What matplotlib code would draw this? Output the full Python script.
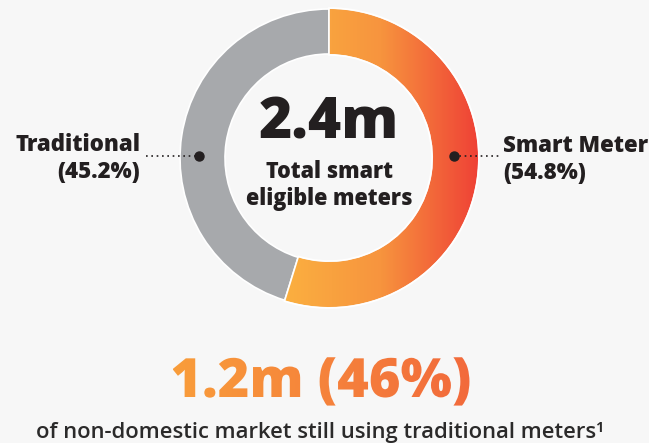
import numpy as np
import matplotlib.pyplot as plt
from matplotlib.patches import Wedge, PathPatch
from matplotlib.textpath import TextPath
from matplotlib.font_manager import FontProperties
from matplotlib.colors import LinearSegmentedColormap
from matplotlib.transforms import Affine2D

# data
labels = ['Smart Meter', 'Traditional']
shares = [54.8, 45.2]
total_label = '2.4m'
headline = '1.2m (46%)'
subline = 'of non-domestic market still using traditional meters\u00b9'

W, H = 649, 443
BG = '#f7f7f7'
DARK = '#231f20'
GREY = '#a7a9ac'

plt.rcParams['font.family'] = ['Open Sans', 'DejaVu Sans']

fig = plt.figure(figsize=(W / 100, H / 100), dpi=100, facecolor=BG)
ax = fig.add_axes([0, 0, 1, 1])
ax.set_xlim(0, W)
ax.set_ylim(0, H)
ax.set_aspect('equal')
ax.axis('off')

# donut geometry (pixels, y up)
cx, cy = 329, H - 158
R, r = 149, 104
width = R - r

angle_smart = shares[0] / sum(shares) * 360
start = 90

# traditional segment (grey)
trad = Wedge((cx, cy), R, start, start + (360 - angle_smart), width=width,
             facecolor=GREY, edgecolor='white', lw=1.2, zorder=2)
ax.add_patch(trad)

# smart meter segment with horizontal gradient
smart = Wedge((cx, cy), R, start - angle_smart, start, width=width,
              facecolor='none', edgecolor='none', zorder=2)
ax.add_patch(smart)
grad_cmap = LinearSegmentedColormap.from_list('smart', ['#fbb040', '#f7943e', '#ef4136'])
grad = np.linspace(0, 1, 256).reshape(1, -1)
im = ax.imshow(grad, cmap=grad_cmap, extent=[283, cx + R + 1, cy - R - 1, cy + R + 1],
               aspect='auto', zorder=2, interpolation='bilinear')
im.set_clip_path(smart)
sep = Wedge((cx, cy), R + 1, start - angle_smart, start, width=width + 2,
            facecolor='none', edgecolor='white', lw=1.2, zorder=3)
ax.add_patch(sep)

# centre text
ax.text(cx, H - 138, total_label, ha='center', va='baseline', fontsize=41,
        fontweight=800, color=DARK, zorder=4)
ax.text(cx, H - 178, 'Total smart', ha='center', va='baseline', fontsize=15.5,
        fontweight=800, color=DARK, zorder=4)
ax.text(cx, H - 205, 'eligible meters', ha='center', va='baseline', fontsize=15.5,
        fontweight=800, color=DARK, zorder=4)

# leader dots and dotted lines
ly = H - 156
lx, rx = cx - 130, cx + 125
ax.plot([lx], [ly], 'o', color=DARK, ms=6.5, zorder=5)
ax.plot([rx], [ly], 'o', color=DARK, ms=6.5, zorder=5)
ax.plot([146, lx], [ly, ly], color=DARK, lw=1.2, ls=(0, (1, 2.2)), zorder=5)
ax.plot([rx, 500], [ly, ly], color=DARK, lw=1.2, ls=(0, (1, 2.2)), zorder=5)

# side labels
ax.text(140, H - 151, labels[1], ha='right', va='baseline', fontsize=16,
        fontweight=800, color=DARK)
ax.text(140, H - 178, '(%.1f%%)' % shares[1], ha='right', va='baseline', fontsize=16,
        fontweight=800, color=DARK)
ax.text(503, H - 152, labels[0], ha='left', va='baseline', fontsize=16,
        fontweight=800, color=DARK)
ax.text(503, H - 179, '(%.1f%%)' % shares[0], ha='left', va='baseline', fontsize=16,
        fontweight=800, color=DARK)

# headline with gradient fill
fp = FontProperties(family='Open Sans', weight=800)
size_px = 39 * 100 / 72
tp = TextPath((0, 0), headline, size=size_px, prop=fp)
bb = tp.get_extents()
hx = 321 - (bb.x0 + bb.x1) / 2
hy = H - 397
tpath = Affine2D().translate(hx, hy).transform_path(tp)
head_patch = PathPatch(tpath, facecolor='none', edgecolor='none')
ax.add_patch(head_patch)
head_cmap = LinearSegmentedColormap.from_list('head', ['#f99d3a', '#f26a3c'])
him = ax.imshow(grad, cmap=head_cmap,
                extent=[hx + bb.x0, hx + bb.x1, hy + bb.y0 - 2, hy + bb.y1 + 2],
                aspect='auto', zorder=3, interpolation='bilinear')
him.set_clip_path(head_patch)

ax.text(320, H - 438, subline, ha='center', va='baseline', fontsize=15.8,
        fontweight=600, color='#2b2a2a')

ax.set_xlim(0, W)
ax.set_ylim(0, H)
fig.savefig('out.png', dpi=100, facecolor=BG)
